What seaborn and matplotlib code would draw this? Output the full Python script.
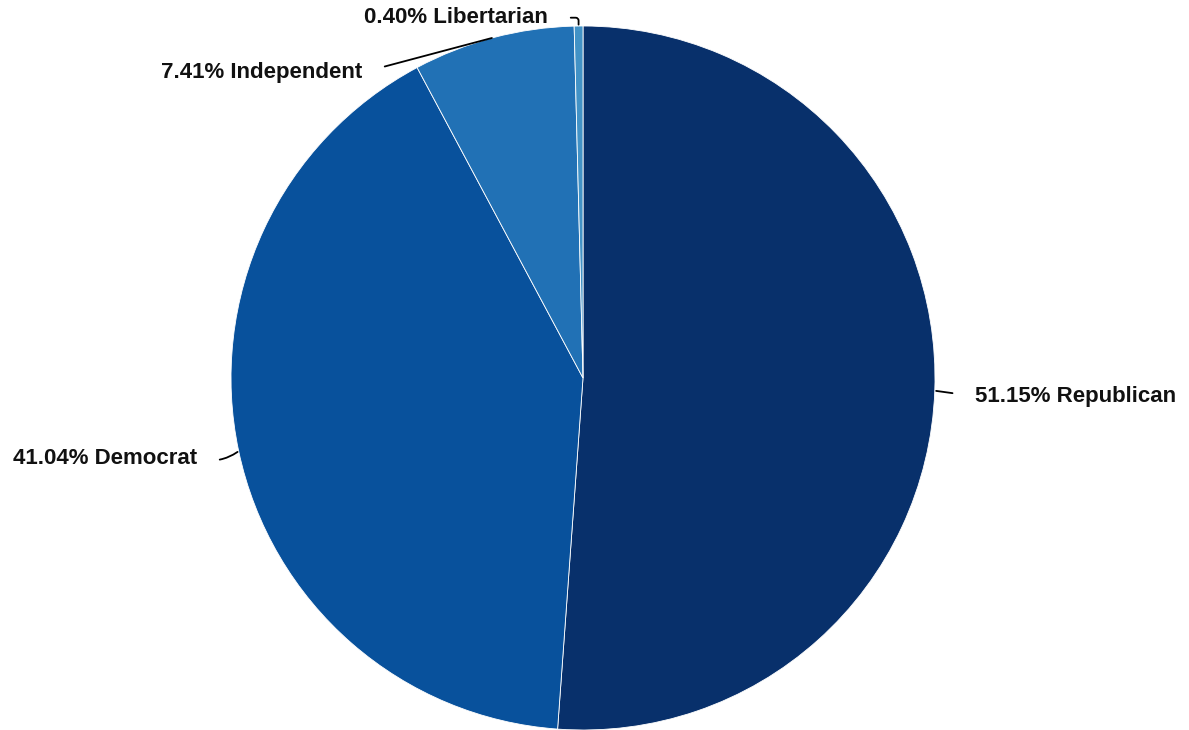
import matplotlib
matplotlib.use("Agg")
import matplotlib.pyplot as plt
import seaborn as sns
import numpy as np

# party share of registered voters
parties = ["Republican", "Democrat", "Independent", "Libertarian"]
shares = [51.15, 41.04, 7.41, 0.40]
colors = ["#08306b", "#08519c", "#2171b5", "#4292c6"]

sns.set_style("white")
plt.rcParams["font.family"] = ["Liberation Sans", "DejaVu Sans"]

W, H = 1189, 730
cx, cy, R = 583, 378, 352
fig = plt.figure(figsize=(W / 100, H / 100), dpi=100)
ax = fig.add_axes([0, 0, 1, 1])

wedges, _ = ax.pie(shares, colors=colors, startangle=90, counterclock=False,
                   radius=1, wedgeprops=dict(edgecolor="white", linewidth=0.6))
ax.set_xlim(-cx / R, (W - cx) / R)
ax.set_ylim(-(H - cy) / R, cy / R)
ax.set_aspect("equal")
ax.axis("off")

# label offsets (points) from the wedge edge, and leader styles
offsets = {
    "Republican": (29, -4, "left", "arc3,rad=0"),
    "Democrat": (-30, -5, "right", "arc3,rad=0.25"),
    "Independent": (-94, -25, "right", "arc3,rad=0"),
    "Libertarian": (-22, 6, "right", "angle,angleA=0,angleB=90,rad=3"),
}

for w, name, val in zip(wedges, parties, shares):
    ang = np.deg2rad((w.theta1 + w.theta2) / 2)
    x, y = np.cos(ang), np.sin(ang)
    dx, dy, ha, cs = offsets[name]
    rel = (0, 0.5) if ha == "left" else (1, 0.5)
    ax.annotate(f"{val:.2f}% {name}", xy=(x, y), xytext=(dx, dy),
                textcoords="offset points", ha=ha, va="center",
                fontsize=16, fontweight="bold", color="#111111",
                arrowprops=dict(arrowstyle="-", color="black", lw=1.3,
                                relpos=rel, shrinkA=14, shrinkB=1,
                                connectionstyle=cs))

fig.savefig("out.png", dpi=100)
